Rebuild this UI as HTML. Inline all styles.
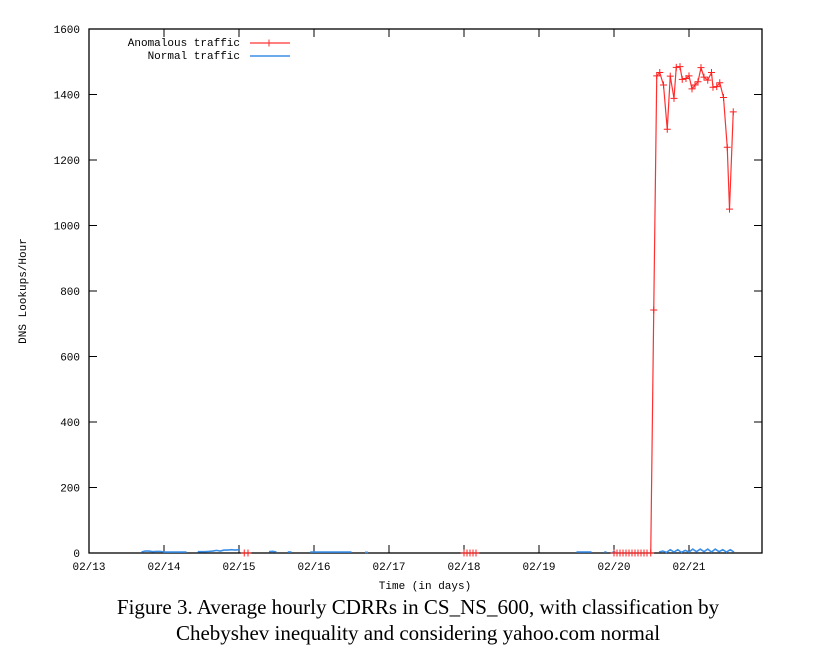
<!DOCTYPE html>
<html><head><meta charset="utf-8"><style>
body{margin:0;background:#fff;width:820px;height:662px;overflow:hidden}
svg{position:absolute;left:0;top:0}
.cap{position:absolute;left:0;width:836px;text-align:center;font-family:"Liberation Serif",serif;font-size:21px;color:#000;line-height:26px}
</style></head><body>
<svg id="chart" width="820" height="600"></svg>
<div class="cap" style="top:594px">Figure 3. Average hourly CDRRs in CS_NS_600, with classification by<br>Chebyshev inequality and considering yahoo.com normal</div>
<script>
const xTicks=["02/13","02/14","02/15","02/16","02/17","02/18","02/19","02/20","02/21"];
const yTicks=[0,200,400,600,800,1000,1200,1400,1600];
// anomalous traffic: day offset from 02/13, value
const anomDays=[2.07,2.12,5.0,5.04,5.08,5.12,5.16,7.0,7.04,7.08,7.12,7.16,7.2,7.24,7.28,7.32,7.36,7.4,7.44,7.49,7.53,7.57,7.61,7.66,7.71,7.75,7.80,7.83,7.88,7.91,7.96,8.0,8.04,8.08,8.12,8.16,8.2,8.25,8.30,8.32,8.37,8.41,8.46,8.51,8.54,8.59];
const anomVals=[0,0,0,0,0,0,0,0,0,0,0,0,0,0,0,0,0,0,0,0,742,1457,1467,1429,1294,1456,1388,1483,1485,1446,1449,1457,1417,1429,1439,1482,1453,1444,1467,1422,1424,1436,1391,1239,1050,1347];
// normal traffic segments
const normDays=[0.7,0.75,0.8,0.85,0.9,0.95,1.0,1.05,1.1,1.15,1.2,1.25,1.3,null,1.45,1.5,1.55,1.6,1.65,1.7,1.75,1.8,1.85,1.9,1.95,2.0,null,2.4,2.45,2.5,null,2.65,2.7,null,2.95,3.0,3.1,3.2,3.3,3.4,3.5,null,3.68,3.72,null,6.5,6.6,6.7,null,6.87,6.9,null,6.98,7.02,null,7.6,7.65,7.7,7.75,7.8,7.85,7.9,7.95,8.0,8.05,8.1,8.15,8.2,8.25,8.3,8.35,8.4,8.45,8.5,8.55,8.6];
const normVals=[3,6,6,4,5,5,3,3,3,3,3,3,3,null,4,4,4,5,6,8,6,9,9,10,9,10,null,4,5,3,null,3,3,null,3,3,3,3,3,3,3,null,2,2,null,3,3,3,null,3,3,null,3,3,null,3,6,2,10,3,10,2,8,3,12,4,12,4,12,3,12,4,10,3,10,3];
const S=document.getElementById('chart'),NS='http://www.w3.org/2000/svg';
const L=89,R=762,T=29,B=553;
const xs=d=>L+d*75, ys=v=>B-(v/1600)*(B-T);
function el(t,a,p){const e=document.createElementNS(NS,t);for(const k in a)e.setAttribute(k,a[k]);(p||S).appendChild(e);return e;}
const font='font-family:"Liberation Mono","DejaVu Sans Mono",monospace;font-size:11px';
let fr=el('rect',{x:L,y:T,width:R-L,height:B-T,fill:'none',stroke:'#000','stroke-width':1.3});

yTicks.forEach(v=>{const y=ys(v);
 el('line',{x1:L,y1:y,x2:L+8,y2:y,stroke:'#000'});el('line',{x1:R,y1:y,x2:R-8,y2:y,stroke:'#000'});
 const t=el('text',{x:L-9,y:y+4,'text-anchor':'end',style:font});t.textContent=v;
 });
xTicks.forEach((s,i)=>{const x=xs(i);
 el('line',{x1:x,y1:B,x2:x,y2:B-8,stroke:'#000'});el('line',{x1:x,y1:T,x2:x,y2:T+8,stroke:'#000'});
 const t=el('text',{x:x,y:B+17,'text-anchor':'middle',style:font});t.textContent=s;
 });
let xt=el('text',{x:425,y:B+36,'text-anchor':'middle',style:font});xt.textContent='Time (in days)';

let yt=el('text',{x:0,y:0,'text-anchor':'middle',style:font,transform:'translate(26,291) rotate(-90)'});yt.textContent='DNS Lookups/Hour';

let segs=[],cur=[];
normDays.forEach((d,i)=>{if(d===null){if(cur.length)segs.push(cur);cur=[];}else cur.push(xs(d)+','+ys(normVals[i]));});
if(cur.length)segs.push(cur);
segs.forEach(s=>{const p=el('polyline',{points:s.join(' '),fill:'none',stroke:'#3a8ee6','stroke-width':1.6});
 });
const ap=anomDays.slice(19).map((d,i)=>xs(d)+','+ys(anomVals[i+19]));
let al=el('polyline',{points:ap.join(' '),fill:'none',stroke:'#ff3030','stroke-width':1.2});

anomDays.forEach((d,i)=>{const x=xs(d),y=ys(anomVals[i]);
 const g=el('path',{d:`M${x-3.5},${y}H${x+3.5}M${x},${y-3.5}V${y+3.5}`,stroke:'#ff2020','stroke-width':1});
 });
const lg=el('g',{});
let t1=el('text',{x:240,y:46,'text-anchor':'end',style:font},lg);t1.textContent='Anomalous traffic';

el('line',{x1:250,y1:43,x2:290,y2:43,stroke:'#ff3030','stroke-width':1.2},lg);
el('line',{x1:269,y1:39.5,x2:269,y2:46.5,stroke:'#ff3030'},lg);
let t2=el('text',{x:240,y:59,'text-anchor':'end',style:font},lg);t2.textContent='Normal traffic';

el('line',{x1:250,y1:56,x2:290,y2:56,stroke:'#3a8ee6','stroke-width':1.4},lg);
</script>
</body></html>
